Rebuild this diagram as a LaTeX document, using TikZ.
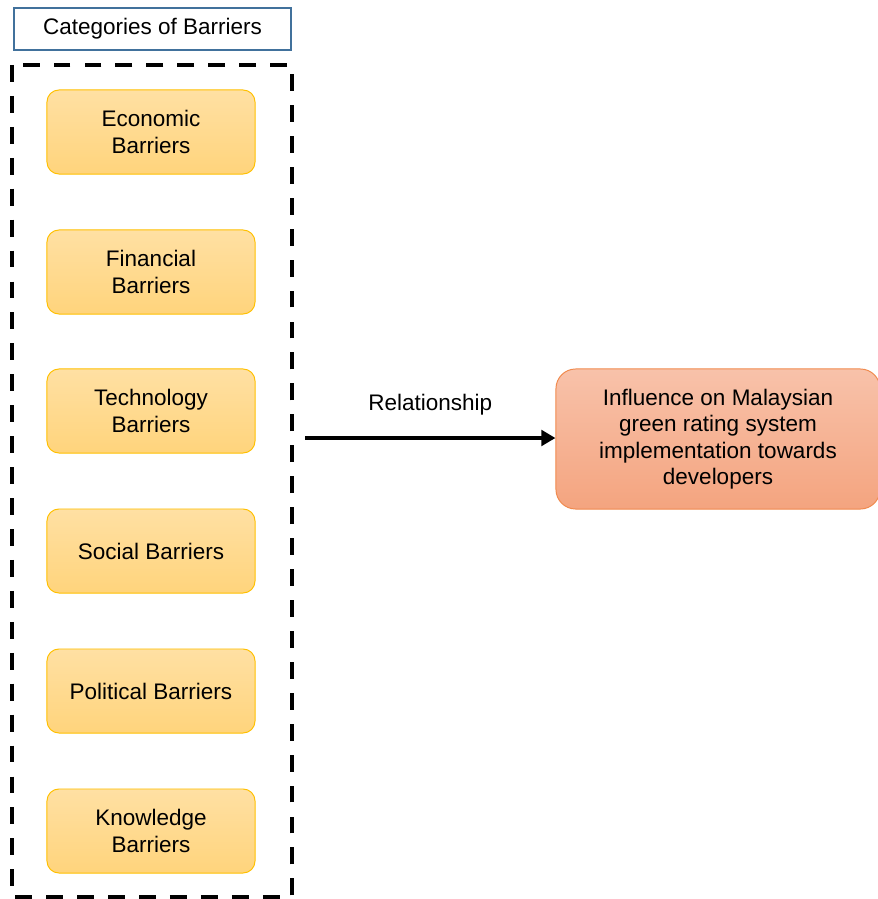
\documentclass[tikz,border=0pt]{standalone}
\usepackage{fontspec}
\setmainfont{Liberation Sans}
\usetikzlibrary{arrows.meta}
\definecolor{titleblue}{HTML}{41719C}
\definecolor{barriertop}{HTML}{FFE0A3}
\definecolor{barrierbot}{HTML}{FFD47C}
\definecolor{barrierline}{HTML}{FFC000}
\definecolor{influtop}{HTML}{F8C2AA}
\definecolor{infiubot}{HTML}{F4A47F}
\definecolor{influline}{HTML}{F08A4E}

\begin{document}
\begin{tikzpicture}[x=0.025cm, y=-0.025cm,
    barrier/.style = {rounded corners=8.5pt, draw=barrierline, line width=0.7pt,
        top color=barriertop, bottom color=barrierbot,
        minimum width=5.2cm, minimum height=2.1cm, align=center,
        font=\fontsize{16}{19.2}\selectfont},
    heading/.style = {draw=titleblue, line width=1pt, minimum width=6.925cm,
        minimum height=1.05cm, font=\fontsize{16}{19.2}\selectfont},
    outcome/.style = {rounded corners=14pt, draw=influline, line width=0.7pt,
        top color=influtop, bottom color=infiubot,
        minimum width=8.1cm, minimum height=3.5cm, align=center,
        font=\fontsize{16}{18.8}\selectfont}]
			\useasboundingbox (0,0) rectangle (878,899);
			\node[heading] (title) at (152.5,29) {Categories of Barriers};
			\draw [line width=2.8pt, dash pattern=on 12pt off 10pt] (12,65) rectangle (292,897);
			\node[barrier] (econ) at (151,132) {Economic\\Barriers};
			\node[barrier] (fin)  at (151,272) {Financial\\Barriers};
			\node[barrier] (tech) at (151,411) {Technology\\Barriers};
			\node[barrier] (soc)  at (151,551) {Social Barriers};
			\node[barrier] (pol)  at (151,691) {Political Barriers};
			\node[barrier] (know) at (151,831) {Knowledge\\Barriers};
			\node[outcome] (influence) at (718,439) {Influence on Malaysian\\green rating system\\implementation towards\\developers};
			\coordinate (start) at (305,438);
			\draw [line width=3.5pt, -{Triangle[length=10pt,width=11pt]}] (start) -- (influence.west |- start)
				node[midway, above=11pt, font=\fontsize{16}{19}\selectfont] (rel) {Relationship};
			\end{tikzpicture}
\end{document}
